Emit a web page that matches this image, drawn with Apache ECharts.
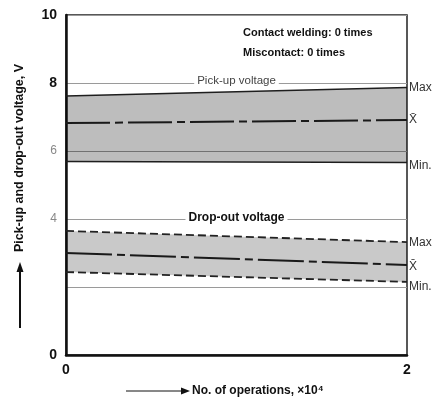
<!DOCTYPE html>
<html>
<head>
<meta charset="utf-8">
<script src="https://cdn.jsdelivr.net/npm/echarts@6/dist/echarts.min.js"></script>
<style>
  html, body { margin: 0; padding: 0; background: #fff; }
  #chart { width: 436px; height: 399px; }
</style>
</head>
<body>
<div id="chart"></div>
<script>
// values (x in 10^4 operations, y in volts)
const operations = ['0', '2'];
const pickUpMax = [7.62, 7.87];
const pickUpMean = [6.82, 6.91];
const pickUpMin = [5.69, 5.66];
const dropOutMax = [3.65, 3.32];
const dropOutMean = [3.0, 2.65];
const dropOutMin = [2.44, 2.15];
const yTickLabels = ['0', '', '4', '6', '8', '10'];
const yLightTicks = [4, 6];
const notes = ['Contact welding: 0 times', 'Miscontact: 0 times'];

const FONT = '"Liberation Sans", Arial, sans-serif';

const spread = (hi, lo) => hi.map((v, i) => +(v - lo[i]).toFixed(3));

const endLabel = (text, dy) => ({
    show: true,
    formatter: text,
    distance: 2,
    offset: [0, dy],
    color: '#333',
    fontSize: 12,
    fontFamily: FONT
});

const lineSeries = (name, data, extra) => Object.assign({
    name: name,
    type: 'line',
    data: data,
    symbol: 'none',
    silent: true,
    lineStyle: { color: '#1e1e1e', width: 1.5 }
}, extra);

const chart = echarts.init(document.getElementById('chart'));

const option = {
    animation: false,
    backgroundColor: '#fff',
    grid: {
        left: 66, right: 29, top: 15, bottom: 44,
        show: true, borderColor: '#222', borderWidth: 1.5
    },
    xAxis: {
        type: 'category',
        data: operations,
        boundaryGap: false,
        axisLine: { lineStyle: { color: '#111', width: 2.5 } },
        axisTick: { show: false },
        splitLine: { show: false },
        axisLabel: {
            interval: 0,
            color: '#111', fontWeight: 'bold', fontSize: 14, fontFamily: FONT, margin: 8
        }
    },
    yAxis: {
        type: 'value',
        min: 0, max: 10, interval: 2,
        axisLine: { show: true, lineStyle: { color: '#111', width: 2.5 } },
        axisTick: { show: false },
        splitLine: { show: true, lineStyle: { color: '#9a9a9a', width: 1 } },
        axisLabel: {
            margin: 9,
            formatter: v => {
                const t = yTickLabels[v / 2];
                if (!t) return '';
                return yLightTicks.includes(v) ? '{l|' + t + '}' : '{b|' + t + '}';
            },
            rich: {
                b: { fontWeight: 'bold', fontSize: 14, color: '#111', fontFamily: FONT },
                l: { fontSize: 12, color: '#888', fontFamily: FONT }
            }
        }
    },
    series: [
        lineSeries('pickMin', pickUpMin, {
            stack: 'pick', endLabel: endLabel('Min.', 3)
        }),
        lineSeries('pickMax', spread(pickUpMax, pickUpMin), {
            stack: 'pick',
            areaStyle: { color: 'rgba(0,0,0,0.26)', opacity: 1 },
            endLabel: endLabel('Max', 0)
        }),
        lineSeries('pickMean', pickUpMean, {
            lineStyle: { color: '#1a1a1a', width: 2, type: [44, 5, 8, 5] },
            endLabel: endLabel('X\u0304', 0)
        }),
        lineSeries('dropMin', dropOutMin, {
            stack: 'drop',
            lineStyle: { color: '#222', width: 1.8, type: [8, 4] },
            endLabel: endLabel('Min.', 5)
        }),
        lineSeries('dropMax', spread(dropOutMax, dropOutMin), {
            stack: 'drop',
            areaStyle: { color: 'rgba(0,0,0,0.21)', opacity: 1 },
            lineStyle: { color: '#222', width: 1.8, type: [8, 4] },
            endLabel: endLabel('Max', 1)
        }),
        lineSeries('dropMean', dropOutMean, {
            lineStyle: { color: '#1a1a1a', width: 2, type: [46, 5, 8, 5] },
            endLabel: endLabel('X\u0304', 2)
        })
    ]
};

chart.setOption(option);

// annotations placed after the scales exist
const left = chart.convertToPixel({ gridIndex: 0 }, ['0', 8]);
const right = chart.convertToPixel({ gridIndex: 0 }, ['2', 4]);
const midX = (left[0] + right[0]) / 2;

chart.setOption({
    graphic: [
        {
            type: 'text', x: 243, y: 33,
            style: { text: notes[0], font: 'bold 11px ' + FONT, fill: '#111', align: 'left', verticalAlign: 'middle' }
        },
        {
            type: 'text', x: 243, y: 53,
            style: { text: notes[1], font: 'bold 11px ' + FONT, fill: '#111', align: 'left', verticalAlign: 'middle' }
        },
        {
            type: 'text', x: midX, y: left[1] - 2,
            style: {
                text: 'Pick-up voltage', font: '11.5px ' + FONT, fill: '#444',
                align: 'center', verticalAlign: 'middle', backgroundColor: '#fff', padding: [0, 3]
            }
        },
        {
            type: 'text', x: midX, y: right[1] - 1,
            style: {
                text: 'Drop-out voltage', font: 'bold 12px ' + FONT, fill: '#111',
                align: 'center', verticalAlign: 'middle', backgroundColor: '#fff', padding: [0, 3]
            }
        },
        // y axis name with arrow
        {
            type: 'text', x: 20, y: 158, rotation: Math.PI / 2,
            style: { text: 'Pick-up and drop-out voltage, V', font: 'bold 12.5px ' + FONT, fill: '#111', align: 'center', verticalAlign: 'middle' }
        },
        {
            type: 'line', shape: { x1: 20, y1: 328, x2: 20, y2: 270 },
            style: { stroke: '#111', lineWidth: 2 }
        },
        {
            type: 'polygon', shape: { points: [[20, 262], [16.5, 272], [23.5, 272]] },
            style: { fill: '#111' }
        },
        // x axis name with arrow
        {
            type: 'line', shape: { x1: 126, y1: 391, x2: 182, y2: 391 },
            style: { stroke: '#111', lineWidth: 1 }
        },
        {
            type: 'polygon', shape: { points: [[190, 391], [181, 387.5], [181, 394.5]] },
            style: { fill: '#111' }
        },
        {
            type: 'text', x: 192, y: 391,
            style: { text: 'No. of operations, \u00d710\u2074', font: 'bold 12px ' + FONT, fill: '#111', align: 'left', verticalAlign: 'middle' }
        }
    ]
});
</script>
</body>
</html>
